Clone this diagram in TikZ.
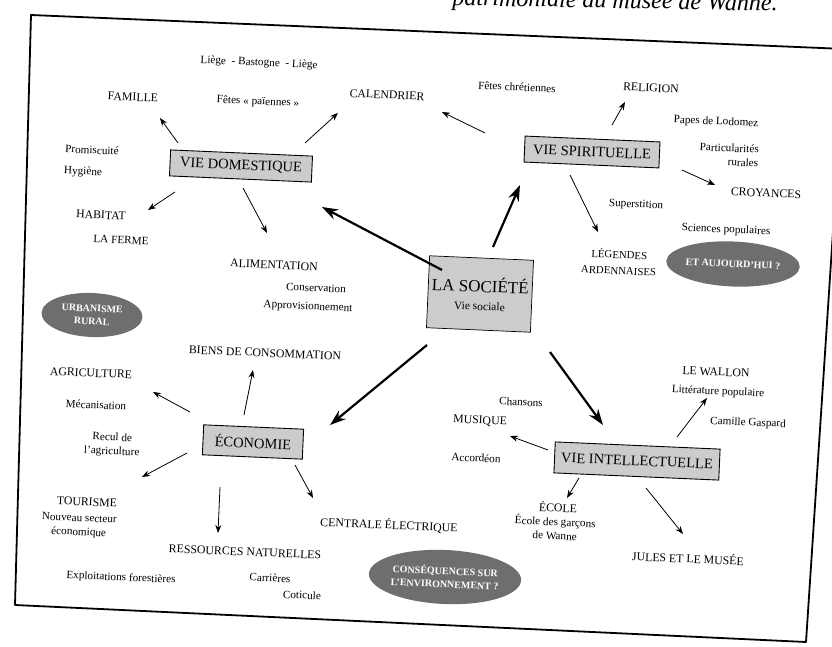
\documentclass[tikz,border=0pt]{standalone}
\usepackage{fontspec}
\setmainfont{Liberation Serif}
\usetikzlibrary{arrows.meta,calc,shapes.geometric}
\begin{document}
\begin{tikzpicture}[x=1pt,y=-1pt,
  lbl/.style={font=\fontsize{11.8}{14}\selectfont, rotate=-2.5, inner sep=1pt},
  sml/.style={font=\fontsize{11.2}{14}\selectfont, rotate=-2.5, inner sep=1pt, align=center},
  box/.style={draw=black, line width=0.9pt, fill=black!20, font=\fontsize{14.5}{16}\selectfont, rotate=-2.5, inner sep=0pt, minimum height=26pt},
  oval/.style={ellipse, fill=black!57, text=white, font=\fontsize{10}{13}\selectfont\bfseries, align=center, rotate=-2.5, inner sep=0pt},
  arr/.style={-{Stealth[length=8pt,width=6pt]}, line width=0.8pt},
  big/.style={-{Stealth[length=16pt,width=11pt]}, line width=2.2pt},
  frame/.style={line width=1.8pt, line join=round}
]
\useasboundingbox (0,0) rectangle (832,647);
\fill[white] (0,0) rectangle (832,647);

% frame and cut-off caption
\draw[frame] (31,15) -- (845,49) -- (806,642) -- (15,605) -- cycle;
\node[anchor=base east, font=\fontsize{24}{26}\selectfont\itshape, rotate=-1] (title) at (781,11) {patrimoniale du musée de Wanne.};

% main boxes
\node[box, minimum width=142pt] (vd) at (241,166) {VIE DOMESTIQUE};
\node[box, minimum width=135pt] (vs) at (592,152) {VIE SPIRITUELLE};
\node[box, minimum width=100pt, minimum height=30pt] (eco) at (253,442) {ÉCONOMIE};
\node[box, minimum width=165pt, minimum height=31pt] (vi) at (637,461) {VIE INTELLECTUELLE};
\node[box, minimum width=104pt, minimum height=72pt, align=center, line width=0.7pt] (soc) at (480,294)
  {{\fontsize{17}{20}\selectfont LA SOCIÉTÉ}\\[2pt]{\fontsize{11.5}{13}\selectfont Vie sociale}};

% vie domestique
\node[sml] (liege) at (259,63) {Liège\ \ - Bastogne\ \ - Liège};
\node[lbl] (fam) at (133,97) {FAMILLE};
\node[sml] (fetesp) at (258,102) {Fêtes «~païennes~»};
\node[lbl] (cal) at (387,95) {CALENDRIER};
\node[sml] (promis) at (92,150) {Promiscuité};
\node[sml] (hyg) at (83,172) {Hygiène};
\node[lbl] (hab) at (101,215) {HABITAT};
\node[sml] (ferme) at (121,240) {LA FERME};
\node[lbl] (alim) at (274,265) {ALIMENTATION};
\node[sml] (conserv) at (316,288) {Conservation};
\node[sml] (approv) at (308,307) {Approvisionnement};
\node[oval, minimum width=101pt, minimum height=44pt] (urb) at (92,315) {URBANISME\\RURAL};

% vie spirituelle
\node[sml] (fetesc) at (517,87) {Fêtes chrétiennes};
\node[lbl] (rel) at (651,88) {RELIGION};
\node[sml] (papes) at (716,122) {Papes de Lodomez};
\node[sml, align=right] (partic) at (729,155) {Particularités\\rurales};
\node[lbl] (croy) at (766,193) {CROYANCES};
\node[sml] (super) at (636,205) {Superstition};
\node[sml] (sci) at (726,230) {Sciences populaires};
\node[lbl, align=center, font=\fontsize{10.8}{16}\selectfont] (leg) at (619,262) {LÉGENDES\\ARDENNAISES};
\node[oval, minimum width=123pt, minimum height=45pt] (auj) at (733,264) {ET AUJOURD'HUI ?};

% economie
\node[lbl] (biens) at (265,353) {BIENS DE CONSOMMATION};
\node[lbl] (agri) at (91,373) {AGRICULTURE};
\node[sml] (meca) at (96,405) {Mécanisation};
\node[sml] (recul) at (112,445) {Recul de\\l'agriculture};
\node[lbl] (tour) at (87,502) {TOURISME};
\node[sml] (nouv) at (79,526) {Nouveau secteur\\économique};
\node[lbl] (ress) at (245,552) {RESSOURCES NATURELLES};
\node[sml] (expl) at (121,578) {Exploitations forestières};
\node[sml] (carr) at (270,578) {Carrières};
\node[sml] (cotic) at (302,595) {Coticule};
\node[lbl] (cent) at (389,525) {CENTRALE ÉLECTRIQUE};
\node[oval, minimum width=140pt, minimum height=54pt] (cons) at (445,577) {CONSÉQUENCES SUR\\L'ENVIRONNEMENT ?};

% vie intellectuelle
\node[sml] (chans) at (521,402) {Chansons};
\node[lbl] (mus) at (480,421) {MUSIQUE};
\node[sml] (accord) at (476,458) {Accordéon};
\node[lbl] (wal) at (716,372) {LE WALLON};
\node[sml] (litt) at (718,392) {Littérature populaire};
\node[sml] (cam) at (748,423) {Camille Gaspard};
\node[lbl] (ecole) at (558,507) {ÉCOLE};
\node[sml] (ecoleg) at (555,528) {École des garçons\\de Wanne};
\node[lbl] (jules) at (688,558) {JULES ET LE MUSÉE};

% thick arrows from the centre
\draw[big] ($(soc)+(-38,-24)$) -- ($(vd)+(81,41)$);
\draw[big] ($(soc)+(13,-47)$) -- ($(vs)+(-72,33)$);
\draw[big] ($(soc)+(-53,51)$) -- ($(eco)+(77,-17)$);
\draw[big] ($(soc)+(70,58)$) -- ($(vi)+(-34,-36)$);

% thin arrows
\draw[arr] ($(vd)+(-63,-23)$) -- ($(fam)+(27,21)$);
\draw[arr] ($(vd)+(64,-23)$) -- ($(cal)+(-49,18)$);
\draw[arr] ($(vd)+(-66,26)$) -- ($(hab)+(47,-5)$);
\draw[arr] ($(vd)+(2,22)$) -- ($(alim)+(-7,-32)$);

\draw[arr] ($(vs)+(-107,-19)$) -- ($(cal)+(55,17)$);
\draw[arr] ($(vs)+(20,-27)$) -- ($(rel)+(-26,14)$);
\draw[arr] ($(vs)+(90,18)$) -- ($(croy)+(-51,-8)$);
\draw[arr] ($(vs)+(-22,23)$) -- ($(leg)+(-21,-30)$);

\draw[arr] ($(eco)+(-63,-30)$) -- ($(agri)+(62,19)$);
\draw[arr] ($(eco)+(-9,-27)$) -- ($(biens)+(-12,17)$);
\draw[arr] ($(eco)+(-66,11)$) -- ($(tour)+(55,-25)$);
\draw[arr] ($(eco)+(-33,45)$) -- ($(ress)+(-27,-19)$);
\draw[arr] ($(eco)+(42,23)$) -- ($(cent)+(-76,-27)$);

\draw[arr] ($(vi)+(-89,-11)$) -- ($(mus)+(30,15)$);
\draw[arr] ($(vi)+(40,-24)$) -- ($(wal)+(-9,26)$);
\draw[arr] ($(vi)+(-58,17)$) -- ($(ecole)+(9,-9)$);
\draw[arr] ($(vi)+(9,27)$) -- ($(jules)+(-5,-24)$);
\end{tikzpicture}
\end{document}
